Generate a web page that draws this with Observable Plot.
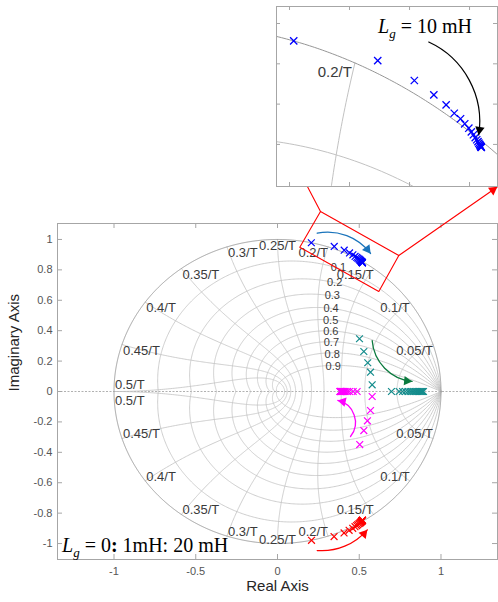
<!DOCTYPE html>
<html><head><meta charset="utf-8">
<script src="https://cdn.jsdelivr.net/npm/d3@7"></script>
<script src="https://cdn.jsdelivr.net/npm/@observablehq/plot@0.6"></script>
<style>
body{margin:0;background:#fff}
#wrap{position:relative;width:498px;height:602px;overflow:hidden;font-family:"Liberation Sans",Arial,sans-serif}
.note{position:absolute;font-family:"Liberation Serif","Times New Roman",serif;font-size:20px;line-height:20px;color:#000;white-space:nowrap}
.note sub{font-size:13px;vertical-align:-5px;line-height:0;font-style:italic}
</style></head><body>
<div id="wrap"></div>
<script>
// ---------- data ----------
// Branch 1 (blue, upper complex pole), Lg = 0..20 mH
const blueRe = [0.207,0.347,0.408,0.4405,0.461,0.4745,0.485,0.492,0.4988,0.503,0.5065,0.5095,0.512,0.514,0.5155,0.5168,0.5177,0.5184,0.5189,0.5193,0.5196];
const blueIm = [0.9785,0.954,0.9293,0.9115,0.8991,0.8887,0.8818,0.8756,0.8701,0.8655,0.862,0.8585,0.8558,0.8535,0.8515,0.85,0.8488,0.8479,0.8472,0.8467,0.8463];
// Branch 2 (red, lower complex pole)
const redRe = [0.208,0.346,0.407,0.438,0.46,0.474,0.484,0.491,0.498,0.503,0.507,0.51,0.5125,0.5145,0.516,0.517,0.518,0.5187,0.5192,0.5196,0.52];
const redIm = [-0.979,-0.954,-0.93,-0.913,-0.9,-0.889,-0.882,-0.876,-0.87,-0.866,-0.862,-0.859,-0.856,-0.854,-0.852,-0.8505,-0.849,-0.848,-0.8473,-0.8468,-0.8464];
// Branch 3 (teal)
const tealRe = [0.5015,0.528,0.552,0.569,0.579,0.697,0.744,0.765,0.783,0.798,0.811,0.823,0.834,0.844,0.853,0.861,0.868,0.875,0.881,0.887,0.893];
const tealIm = [0.347,0.263,0.189,0.127,0.044,0,0,0,0,0,0,0,0,0,0,0,0,0,0,0,0];
// Branch 4 (magenta)
const magRe = [0.503,0.528,0.55,0.569,0.579,0.487,0.463,0.44,0.428,0.418,0.41,0.404,0.399,0.395,0.392,0.389,0.387,0.385,0.384,0.383,0.382];
const magIm = [-0.349,-0.257,-0.193,-0.125,-0.033,0,0,0,0,0,0,0,0,0,0,0,0,0,0,0,0];

const xTicks = [-1,-0.5,0,0.5,1];
const yTicks = [-1,-0.8,-0.6,-0.4,-0.2,0,0.2,0.4,0.6,0.8,1];
const insetXTicks = [0.2,0.3,0.4,0.5];
const insetYTicks = [0.85,0.9,0.95,1];
const zetas = [0.1,0.2,0.3,0.4,0.5,0.6,0.7,0.8,0.9];
const freqs = [0.05,0.1,0.15,0.2,0.25,0.3,0.35,0.4,0.45,0.5];

// ---------- z-plane grid (zgrid) ----------
const N = 300;
const grid = [];
for (const z of zetas) for (const s of [1,-1]) {
  const q = Math.sqrt(1 - z*z), wmax = Math.PI / q;
  for (let i = 0; i <= N; i++) {
    const w = wmax*i/N, r = Math.exp(-z*w), a = w*q;
    grid.push({x: r*Math.cos(a), y: s*r*Math.sin(a), id: `z${z}_${s}`});
  }
}
for (const k of freqs) for (const s of [1,-1]) {
  const w = 2*Math.PI*k;
  for (let i = 0; i <= N; i++) {
    const t = (Math.PI/2)*i/N, z = Math.sin(t), r = Math.exp(-z*w), a = w*Math.cos(t);
    grid.push({x: r*Math.cos(a), y: s*r*Math.sin(a), id: `w${k}_${s}`});
  }
}
const circle = d3.range(0, 1441).map(i => ({x: Math.cos(i*Math.PI/720), y: Math.sin(i*Math.PI/720)}));

const wLabels = [];
for (const k of freqs) for (const s of [1,-1]) {
  const a = 2*Math.PI*k;
  wLabels.push({x: Math.cos(a), y: s*Math.sin(a), text: `${k}/T`,
    anchor: k < 0.25 ? "end" : k > 0.25 ? "start" : "middle",
    line: ((s > 0) !== (k === 0.5)) ? "top" : "bottom",
    nyq: k === 0.5});
}
const zLabels = zetas.map(z => {
  const w = 1.2, r = Math.exp(-z*w), a = w*Math.sqrt(1-z*z);
  return {x: r*Math.cos(a), y: r*Math.sin(a), text: `${z}`};
});

function pts(re, im) { return re.map((x, i) => ({x, y: im[i]})); }

const GRID = "#c2c2c2", UC = "#969696", FRAME = "#a6a6a6";

function labelMarks(list, extra = {}) {
  const out = [];
  for (const anchor of ["start","end","middle"]) for (const line of ["top","bottom"]) for (const nyq of [false, true]) {
    const sub = list.filter(d => d.anchor === anchor && d.line === line && d.nyq === nyq);
    const shift = nyq ? 3 : 0;
    if (sub.length) out.push(Plot.text(sub, {x: "x", y: "y", text: "text", textAnchor: anchor, lineAnchor: line,
      dx: anchor === "start" ? 1 : 0, dy: line === "top" ? 1 + shift : -shift,
      fill: "#3a3a3a", fontSize: 13, ...extra}));
  }
  return out;
}

function arrowMarks(list, sxp, syp, width = 1.3) {
  const out = [];
  for (const a of list) {
    out.push(Plot.arrow([a], {x1: "x1", y1: "y1", x2: "x2", y2: "y2", bend: a.bend, stroke: a.color, strokeWidth: width, headLength: 0}));
    const dx = (a.x2 - a.x1)*sxp, dy = -(a.y2 - a.y1)*syp;
    const end = Math.atan2(dy, dx) + a.bend*Math.PI/180;
    const back = 5.2;
    out.push(Plot.dot([a], {x: d => d.x2 - back*Math.cos(end)/sxp, y: d => d.y2 + back*Math.sin(end)/syp,
      symbol: "triangle", r: 3.5, fill: a.color, stroke: "none", rotate: end*180/Math.PI + 90}));
  }
  return out;
}

// ---------- main axes ----------
const W = 498, H = 602, ML = 57, MR = 1, MT = 223, MB = 43;
const X0 = -1.3456, X1 = 1.3456, Y0 = -1.105, Y1 = 1.105;
const iw = W - ML - MR, ih = H - MT - MB;
const sx = iw/(X1 - X0), sy = ih/(Y1 - Y0);

const zoomBox = [
  {x: 0.263, y: 1.184}, {x: 0.742, y: 0.895}, {x: 0.6196, y: 0.658}, {x: 0.1364, y: 0.949}, {x: 0.263, y: 1.184}
];
const mainArrows = [
  {x1: 0.243, y1: 1.041, x2: 0.569, y2: 0.908, bend: 32, color: "#1a74bb"},
  {x1: 0.579, y1: 0.335, x2: 0.823, y2: 0.066, bend: -40, color: "#0b7a3e"},
  {x1: 0.4465, y1: -0.296, x2: 0.369, y2: -0.059, bend: -58, color: "#ff00ff"},
  {x1: 0.243, y1: -1.046, x2: 0.549, y2: -0.91, bend: -27, color: "#ff0000"}
];
const linkArrows = [
  {x1: 0.263, y1: 1.184, x2: -0.006, y2: 1.737, bend: 0, color: "#ff0000"},
  {x1: 0.742, y1: 0.895, x2: 1.3437, y2: 1.345, bend: 0, color: "#ff0000"}
];

const main = Plot.plot({
  width: W, height: H, marginLeft: ML, marginRight: MR, marginTop: MT, marginBottom: MB,
  x: {domain: [X0, X1], axis: null}, y: {domain: [Y0, Y1], axis: null},
  style: {fontFamily: '"Liberation Sans", Arial, sans-serif', fontSize: "11px", color: "#555", background: "white", overflow: "visible"},
  marks: [
    Plot.ruleY([0], {stroke: "#a8a8a8", strokeDasharray: "2,1.5", strokeWidth: 0.9}),
    Plot.line(grid, {x: "x", y: "y", z: "id", stroke: GRID, strokeWidth: 0.8}),
    Plot.line(circle, {x: "x", y: "y", stroke: UC, strokeWidth: 0.9}),
    ...labelMarks(wLabels),
    Plot.text(zLabels, {x: "x", y: "y", text: "text", textAnchor: "start", lineAnchor: "middle", dy: 1, fill: "#3a3a3a", fontSize: 11}),
    Plot.frame({stroke: FRAME}),
    Plot.ruleX(xTicks, {insetTop: ih - 5, stroke: FRAME}),
    Plot.ruleX(xTicks, {insetBottom: ih - 5, stroke: FRAME}),
    Plot.ruleY(yTicks, {insetRight: iw - 5, stroke: FRAME}),
    Plot.ruleY(yTicks, {insetLeft: iw - 5, stroke: FRAME}),
    Plot.axisX(xTicks, {anchor: "bottom", tickSize: 0, tickPadding: 8, tickFormat: d => String(d), label: null, fontSize: 11}),
    Plot.axisY(yTicks, {anchor: "left", tickSize: 0, tickPadding: 5, tickFormat: d => String(d), label: null, fontSize: 11}),
    Plot.dot(pts(tealRe, tealIm), {x: "x", y: "y", symbol: "times", r: 3.2, stroke: "#148c8c", strokeWidth: 1.2}),
    Plot.dot(pts(magRe, magIm), {x: "x", y: "y", symbol: "times", r: 3.2, stroke: "#ff00ff", strokeWidth: 1.2}),
    Plot.dot(pts(blueRe, blueIm), {x: "x", y: "y", symbol: "times", r: 3.2, stroke: "#0000ff", strokeWidth: 1.2}),
    Plot.dot(pts(redRe, redIm), {x: "x", y: "y", symbol: "times", r: 3.2, stroke: "#ff0000", strokeWidth: 1.2}),
    Plot.line(zoomBox, {x: "x", y: "y", stroke: "#ff0000", strokeWidth: 1.1}),
    ...arrowMarks(linkArrows, sx, sy, 1.1),
    ...arrowMarks(mainArrows, sx, sy, 1.3),
    Plot.text(["Real Axis"], {frameAnchor: "bottom", dy: 31, fontSize: 15, fill: "#262626"}),
    Plot.text(["Imaginary Axis"], {frameAnchor: "left", dx: -43, rotate: -90, fontSize: 15, fill: "#262626"})
  ]
});
main.style.position = "absolute"; main.style.left = "0px"; main.style.top = "0px";
document.getElementById("wrap").appendChild(main);

// ---------- inset (zoom on the blue branch) ----------
const IW = 223, IH = 182;
const IX0 = 0.1783, IX1 = 0.5466, IY0 = 0.7978, IY1 = 1.0211;
const iiw = IW - 2, iih = IH - 2;
const isx = iiw/(IX1 - IX0), isy = iih/(IY1 - IY0);
const insetArrows = [{x1: 0.432, y1: 0.977, x2: 0.5153, y2: 0.8618, bend: 37, color: "#000000"}];
const insetLabels = wLabels.filter(d => d.text === "0.2/T" && d.y > 0);

const inset = Plot.plot({
  width: IW, height: IH, margin: 1,
  x: {domain: [IX0, IX1], axis: null}, y: {domain: [IY0, IY1], axis: null},
  style: {fontFamily: '"Liberation Sans", Arial, sans-serif', fontSize: "11px", color: "#555", background: "white", overflow: "visible"},
  marks: [
    Plot.line(grid, {x: "x", y: "y", z: "id", stroke: GRID, strokeWidth: 1, clip: true}),
    Plot.line(circle, {x: "x", y: "y", stroke: UC, strokeWidth: 1, clip: true}),
    ...labelMarks(insetLabels, {dx: -3, dy: 3, fontSize: 15}),
    Plot.frame({stroke: FRAME}),
    Plot.ruleX(insetXTicks, {insetTop: iih - 4, stroke: FRAME}),
    Plot.ruleX(insetXTicks, {insetBottom: iih - 4, stroke: FRAME}),
    Plot.ruleY(insetYTicks, {insetRight: iiw - 4, stroke: FRAME}),
    Plot.ruleY(insetYTicks, {insetLeft: iiw - 4, stroke: FRAME}),
    Plot.dot(pts(blueRe, blueIm), {x: "x", y: "y", symbol: "times", r: 3.4, stroke: "#0000ff", strokeWidth: 1.3}),
    ...arrowMarks(insetArrows, isx, isy, 1.2)
  ]
});
inset.style.position = "absolute"; inset.style.left = "275px"; inset.style.top = "5px";
document.getElementById("wrap").appendChild(inset);

// ---------- annotations ----------
const n1 = document.createElement("div");
n1.className = "note"; n1.style.left = "62px"; n1.style.top = "535px";
n1.innerHTML = '<i>L</i><sub>g</sub> = 0<b>:</b> 1mH: 20 mH';
document.getElementById("wrap").appendChild(n1);
const n2 = document.createElement("div");
n2.className = "note"; n2.style.left = "378px"; n2.style.top = "16px";
n2.innerHTML = '<i>L</i><sub>g</sub> = 10 mH';
document.getElementById("wrap").appendChild(n2);
</script>
</body></html>
